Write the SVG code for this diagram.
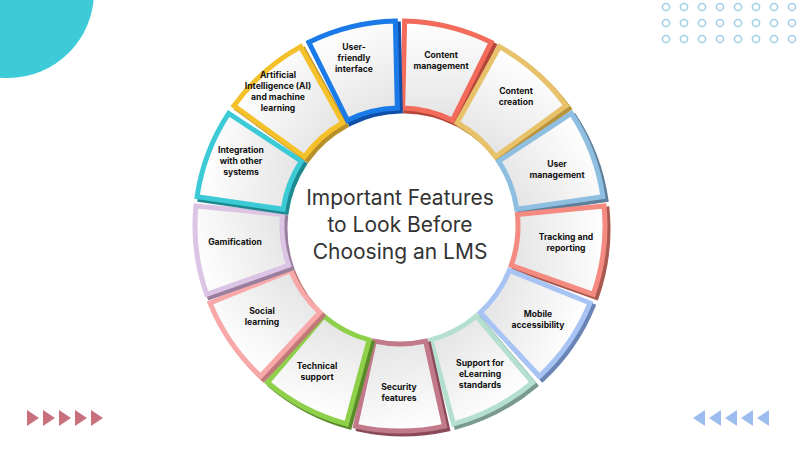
<svg xmlns="http://www.w3.org/2000/svg" xmlns:xlink="http://www.w3.org/1999/xlink" width="800" height="450" viewBox="0 0 800 450">
<defs>
<linearGradient id="g" x1="0" y1="0" x2="0" y2="1"><stop offset="0" stop-color="#ffffff"/><stop offset="1" stop-color="#e4e4e4"/></linearGradient>
<path id="seg" d="M404.65,21.05 A205,205 0 0 1 491.12,42.36 L452.45,120.30 A118,118 0 0 0 402.68,108.03 Z"/>
<circle id="dot" r="3.6" fill="none" stroke="#9fd0e6" stroke-width="1.5"/>
</defs>
<style>
.lbl{font-family:Inter,"Liberation Sans",sans-serif;font-size:8.6px;font-weight:700;fill:#111;text-anchor:middle}
.ttl{font-family:Inter,"Liberation Sans",sans-serif;font-size:21px;fill:#333;text-anchor:middle}
.s{stroke-width:5;stroke-linejoin:miter}
.f{fill:url(#g)}
</style>
<rect width="800" height="450" fill="#fff"/>
<circle cx="8" cy="-8" r="86" fill="#3ecbd8"/>
<g id="dots">
<use xlink:href="#dot" x="666" y="7"/><use xlink:href="#dot" x="684" y="7"/><use xlink:href="#dot" x="702" y="7"/><use xlink:href="#dot" x="720" y="7"/><use xlink:href="#dot" x="738" y="7"/><use xlink:href="#dot" x="756" y="7"/><use xlink:href="#dot" x="774" y="7"/><use xlink:href="#dot" x="792" y="7"/>
<use xlink:href="#dot" x="666" y="23"/><use xlink:href="#dot" x="684" y="23"/><use xlink:href="#dot" x="702" y="23"/><use xlink:href="#dot" x="720" y="23"/><use xlink:href="#dot" x="738" y="23"/><use xlink:href="#dot" x="756" y="23"/><use xlink:href="#dot" x="774" y="23"/><use xlink:href="#dot" x="792" y="23"/>
<use xlink:href="#dot" x="666" y="39"/><use xlink:href="#dot" x="684" y="39"/><use xlink:href="#dot" x="702" y="39"/><use xlink:href="#dot" x="720" y="39"/><use xlink:href="#dot" x="738" y="39"/><use xlink:href="#dot" x="756" y="39"/><use xlink:href="#dot" x="774" y="39"/><use xlink:href="#dot" x="792" y="39"/>
</g>
<g fill="#c9707e">
<polygon points="27,410 39,418 27,426"/><polygon points="43,410 55,418 43,426"/><polygon points="59,410 71,418 59,426"/><polygon points="75,410 87,418 75,426"/><polygon points="91,410 103,418 91,426"/>
</g>
<g fill="#9cbcf0">
<polygon points="705,410 693,418 705,426"/><polygon points="721,410 709,418 721,426"/><polygon points="737,410 725,418 737,426"/><polygon points="753,410 741,418 753,426"/><polygon points="769,410 757,418 769,426"/>
</g>
<g id="ring">
<g id="n1"><use xlink:href="#seg" class="s f" stroke="#b5463a" transform="translate(3,3) rotate(0,400,226)"/><use xlink:href="#seg" class="s f" stroke="#f26b5b" transform="rotate(0,400,226)"/><text class="lbl" x="441" y="58">Content<tspan x="441" dy="11">management</tspan></text></g>
<g id="n2"><use xlink:href="#seg" class="s f" stroke="#b8923c" transform="translate(3,3) rotate(27.69,400,226)"/><use xlink:href="#seg" class="s f" stroke="#e8c26a" transform="rotate(27.69,400,226)"/><text class="lbl" x="516" y="94">Content<tspan x="516" dy="11">creation</tspan></text></g>
<g id="n3"><use xlink:href="#seg" class="s f" stroke="#5d7f9a" transform="translate(3,3) rotate(55.38,400,226)"/><use xlink:href="#seg" class="s f" stroke="#8fbfe0" transform="rotate(55.38,400,226)"/><text class="lbl" x="557" y="167">User<tspan x="557" dy="11">management</tspan></text></g>
<g id="n4"><use xlink:href="#seg" class="s f" stroke="#a85a50" transform="translate(3,3) rotate(83.08,400,226)"/><use xlink:href="#seg" class="s f" stroke="#f48a80" transform="rotate(83.08,400,226)"/><text class="lbl" x="566" y="240">Tracking and<tspan x="566" dy="11">reporting</tspan></text></g>
<g id="n5"><use xlink:href="#seg" class="s f" stroke="#6a84b5" transform="translate(3,3) rotate(110.77,400,226)"/><use xlink:href="#seg" class="s f" stroke="#a8c4f5" transform="rotate(110.77,400,226)"/><text class="lbl" x="538" y="317">Mobile<tspan x="538" dy="11">accessibility</tspan></text></g>
<g id="n6"><use xlink:href="#seg" class="s f" stroke="#7a9a90" transform="translate(3,3) rotate(138.46,400,226)"/><use xlink:href="#seg" class="s f" stroke="#b5e0d0" transform="rotate(138.46,400,226)"/><text class="lbl" x="480" y="366">Support for<tspan x="480" dy="11">eLearning</tspan><tspan x="480" dy="11">standards</tspan></text></g>
<g id="n7"><use xlink:href="#seg" class="s f" stroke="#8a4a5a" transform="translate(3,3) rotate(166.15,400,226)"/><use xlink:href="#seg" class="s f" stroke="#c27a8a" transform="rotate(166.15,400,226)"/><text class="lbl" x="399" y="390">Security<tspan x="399" dy="11">features</tspan></text></g>
<g id="n8"><use xlink:href="#seg" class="s f" stroke="#5a8a2a" transform="translate(3,3) rotate(193.85,400,226)"/><use xlink:href="#seg" class="s f" stroke="#8fd04a" transform="rotate(193.85,400,226)"/><text class="lbl" x="317" y="369">Technical<tspan x="317" dy="11">support</tspan></text></g>
<g id="n9"><use xlink:href="#seg" class="s f" stroke="#c07878" transform="translate(3,3) rotate(221.54,400,226)"/><use xlink:href="#seg" class="s f" stroke="#f8a8a8" transform="rotate(221.54,400,226)"/><text class="lbl" x="262" y="314">Social<tspan x="262" dy="11">learning</tspan></text></g>
<g id="n10"><use xlink:href="#seg" class="s f" stroke="#9a7e9e" transform="translate(3,3) rotate(249.23,400,226)"/><use xlink:href="#seg" class="s f" stroke="#dcc4e4" transform="rotate(249.23,400,226)"/><text class="lbl" x="235" y="245">Gamification</text></g>
<g id="n11"><use xlink:href="#seg" class="s f" stroke="#1e8a90" transform="translate(3,3) rotate(276.92,400,226)"/><use xlink:href="#seg" class="s f" stroke="#3ccad6" transform="rotate(276.92,400,226)"/><text class="lbl" x="241" y="153">Integration<tspan x="241" dy="11">with other</tspan><tspan x="241" dy="11">systems</tspan></text></g>
<g id="n12"><use xlink:href="#seg" class="s f" stroke="#b8902a" transform="translate(3,3) rotate(304.62,400,226)"/><use xlink:href="#seg" class="s f" stroke="#f5c12a" transform="rotate(304.62,400,226)"/><text class="lbl" x="278" y="78">Artificial<tspan x="278" dy="11">Intelligence (AI)</tspan><tspan x="278" dy="11">and machine</tspan><tspan x="278" dy="11">learning</tspan></text></g>
<g id="n13"><use xlink:href="#seg" class="s f" stroke="#0f4fa8" transform="translate(3,3) rotate(332.31,400,226)"/><use xlink:href="#seg" class="s f" stroke="#1a7be8" transform="rotate(332.31,400,226)"/><text class="lbl" x="354" y="50">User-<tspan x="354" dy="11">friendly</tspan><tspan x="354" dy="11">interface</tspan></text></g>
</g>
<g id="connectors"/>
<text class="ttl" x="400" y="205">Important Features<tspan x="400" dy="27">to Look Before</tspan><tspan x="400" dy="27">Choosing an LMS</tspan></text>
</svg>
